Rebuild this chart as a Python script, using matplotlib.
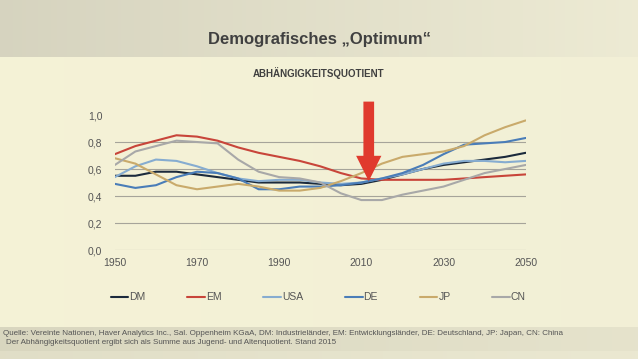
import matplotlib
matplotlib.use("Agg")
import matplotlib.pyplot as plt
from matplotlib import font_manager
import numpy as np

years = [1950, 1955, 1960, 1965, 1970, 1975, 1980, 1985, 1990, 1995, 2000,
         2005, 2010, 2015, 2020, 2025, 2030, 2035, 2040, 2045, 2050]
dm = [0.55, 0.55, 0.58, 0.58, 0.56, 0.54, 0.52, 0.50, 0.50, 0.50, 0.49,
      0.48, 0.49, 0.52, 0.56, 0.60, 0.63, 0.65, 0.67, 0.69, 0.72]
em = [0.71, 0.77, 0.81, 0.85, 0.84, 0.81, 0.76, 0.72, 0.69, 0.66, 0.62,
      0.57, 0.53, 0.52, 0.52, 0.52, 0.52, 0.53, 0.54, 0.55, 0.56]
usa = [0.54, 0.62, 0.67, 0.66, 0.62, 0.57, 0.53, 0.51, 0.52, 0.52, 0.50,
       0.49, 0.50, 0.53, 0.56, 0.60, 0.64, 0.66, 0.66, 0.65, 0.66]
de = [0.49, 0.46, 0.48, 0.54, 0.58, 0.57, 0.53, 0.45, 0.45, 0.47, 0.47,
      0.48, 0.50, 0.53, 0.57, 0.63, 0.71, 0.78, 0.79, 0.80, 0.83]
jp = [0.68, 0.64, 0.56, 0.48, 0.45, 0.47, 0.49, 0.47, 0.44, 0.44, 0.46,
      0.51, 0.57, 0.64, 0.69, 0.71, 0.73, 0.77, 0.85, 0.91, 0.96]
cn = [0.63, 0.73, 0.77, 0.81, 0.80, 0.79, 0.67, 0.58, 0.54, 0.53, 0.50,
      0.42, 0.37, 0.37, 0.41, 0.44, 0.47, 0.52, 0.57, 0.60, 0.63]

labels = ["DM", "EM", "USA", "DE", "JP", "CN"]
colors = ["#1b2a3c", "#c8453a", "#86acd0", "#4a7db8", "#c9aa6b", "#a8a8a8"]
xticks = [1950, 1970, 1990, 2010, 2030, 2050]
yticks = [0.0, 0.2, 0.4, 0.6, 0.8, 1.0]
arrow_year = 2011.8

installed = {f.name for f in font_manager.fontManager.ttflist}
narrow = "Liberation Sans Narrow" if "Liberation Sans Narrow" in installed else "Liberation Sans"
plt.rcParams["font.family"] = ["Liberation Sans", "DejaVu Sans"]

fig = plt.figure(figsize=(6.38, 3.59), dpi=100)
fig.patch.set_facecolor("#f6f4dc")

# hintergrund-bänder
bg = fig.add_axes([0, 0, 1, 1], zorder=-10)
bg.axis("off")
grad = np.linspace(0, 1, 200)[None, :]
bg.imshow(np.dstack([0.84 + 0.09 * grad, 0.83 + 0.09 * grad, 0.75 + 0.08 * grad]),
          extent=[0, 1, 0.84, 1], aspect="auto", transform=bg.transAxes)
bg.imshow(np.dstack([0.96 - 0.01 * grad, 0.95 - 0.01 * grad, 0.84 + 0.00 * grad]),
          extent=[0, 1, 0.089, 0.84], aspect="auto", transform=bg.transAxes)
bg.imshow(np.dstack([0.85 + 0.05 * grad, 0.84 + 0.05 * grad, 0.75 + 0.05 * grad]),
          extent=[0, 1, 0.02, 0.089], aspect="auto", transform=bg.transAxes)
bg.imshow(np.dstack([0.88 + 0.04 * grad, 0.87 + 0.04 * grad, 0.78 + 0.04 * grad]),
          extent=[0, 1, 0, 0.02], aspect="auto", transform=bg.transAxes)
bg.set_xlim(0, 1)
bg.set_ylim(0, 1)

ax = fig.add_axes([0.180, 0.3036, 0.644, 0.376])
ax.patch.set_alpha(0)
for series, lab, col in zip([dm, em, usa, de, jp, cn], labels, colors):
    ax.plot(years, series, color=col, lw=1.5, label=lab, solid_capstyle="round")

ax.set_xlim(1950, 2050)
ax.set_ylim(0, 1.0)
ax.set_xticks(xticks)
ax.set_yticks(yticks)
ax.set_yticklabels([f"{v:.1f}".replace(".", ",") for v in yticks])
for y in yticks[:-1]:
    ax.axhline(y, color="#a6a49a", lw=0.8, zorder=0)
for s in ax.spines.values():
    s.set_visible(False)
ax.tick_params(length=0, labelsize=7.5, labelcolor="#555555", pad=6)
ax.tick_params(axis="y", pad=9)

ax.annotate("", xy=(arrow_year, 0.49), xytext=(arrow_year, 1.12),
            xycoords="data", textcoords="data", annotation_clip=False,
            arrowprops=dict(arrowstyle="simple,head_width=1.3,head_length=1.3,tail_width=0.55",
                            color="#e03a2e", lw=0, mutation_scale=14))

leg = ax.legend(loc="center", bbox_to_anchor=(0.495, -0.35), ncol=6,
                frameon=False, fontsize=7.5, handlelength=1.7, handletextpad=0.1,
                columnspacing=4.0)
for t in leg.get_texts():
    t.set_color("#555555")

fig.text(0.5, 0.889, "Demografisches \u201eOptimum\u201c", ha="center", va="center",
         fontsize=12, fontweight="bold", color="#404040", family=narrow)
fig.text(0.5, 0.797, "ABH\u00c4NGIGKEITSQUOTIENT", ha="center", va="center",
         fontsize=7, fontweight="bold", color="#404040", family=narrow)
fig.text(0.005, 0.070, "Quelle: Vereinte Nationen, Haver Analytics Inc., Sal. Oppenheim KGaA, "
         "DM: Industrieländer, EM: Entwicklungsländer, DE: Deutschland, JP: Japan, CN: China",
         ha="left", va="center", fontsize=5.8, color="#555555", family=narrow)
fig.text(0.010, 0.047, "Der Abhängigkeitsquotient ergibt sich als Summe aus Jugend- und "
         "Altenquotient. Stand 2015",
         ha="left", va="center", fontsize=5.8, color="#555555", family=narrow)

fig.savefig("out.png", dpi=100)
plt.close(fig)
